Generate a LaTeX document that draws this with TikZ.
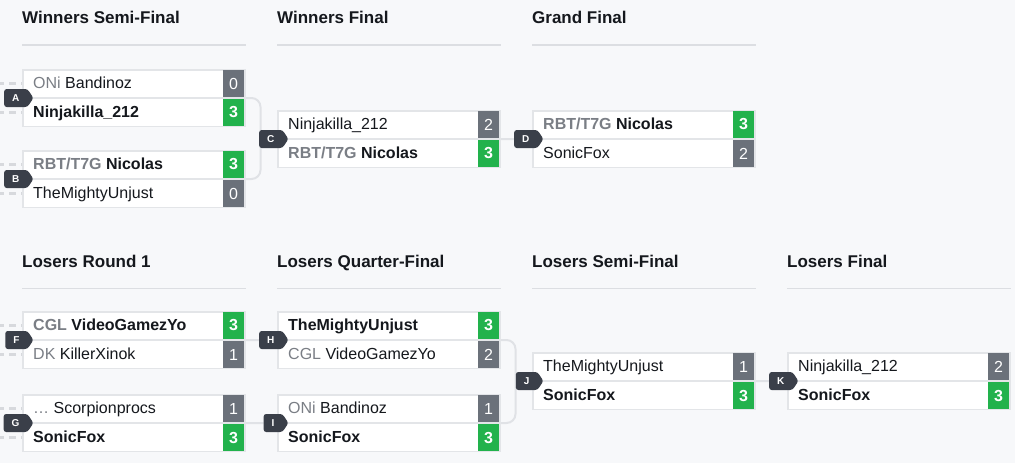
\documentclass[tikz,border=0pt]{standalone}
\usepackage{fontspec}
\setmainfont{Liberation Sans}
\usetikzlibrary{shapes.symbols}
\pgfdeclarelayer{back}
\pgfsetlayers{back,main}
\definecolor{bgc}{HTML}{F7F8FA}
\definecolor{cardb}{HTML}{E3E5E8}
\definecolor{connc}{HTML}{E0E2E6}
\definecolor{winc}{HTML}{22B24C}
\definecolor{losec}{HTML}{6B717A}
\definecolor{badgec}{HTML}{3A3F49}
\definecolor{preg}{HTML}{7A7E85}
\definecolor{txt}{HTML}{15181D}
\definecolor{stubc}{HTML}{D7D9DD}
\definecolor{hlinec}{HTML}{DCDEE2}
\newcommand\pre[1]{{\color{preg}#1}}
\newcommand\mcard[9]{%
  \node[card] (#1) at (#2+111.75,#3+29) {};
  \draw[sepline] (#1.west) -- (#1.east);
  \node[score,#6] (#1s1) at (#2+211.5,#3+14.5) {#5};
  \node[score,#9] (#1s2) at (#2+211.5,#3+43.5) {#8};
  \node[pname] (#1n1) at (#2+11,#3+19.8) {#4};
  \node[pname] (#1n2) at (#2+11,#3+48.8) {#7};
}
\newcommand\mbadge[3]{\node[badge] (#1) at ([xshift=11.5pt]#2.west) {#3};}
\newcommand\mheader[4]{%
  \node[hdr] (#1) at (#2,#3) {#4};
  \draw[hline] (#2,#3+21.5) -- (#2+223.5,#3+21.5);
}
\begin{document}
\begin{tikzpicture}[x=1pt,y=-1pt,
  card/.style={draw=cardb, line width=1.5pt, fill=white, minimum width=222pt, minimum height=56.5pt, inner sep=0pt},
  sepline/.style={draw=cardb, line width=1.5pt},
  score/.style={minimum width=21.5pt, minimum height=27pt, inner sep=0pt, text=white, fill=losec, font=\fontsize{16}{19}\selectfont},
  win/.style={fill=winc, font=\fontsize{16}{19}\selectfont\bfseries},
  lose/.style={fill=losec},
  pname/.style={anchor=base west, inner sep=0pt, text=txt, font=\fontsize{16}{19}\selectfont},
  hdr/.style={anchor=base west, inner sep=0pt, text=txt, font=\fontsize{17}{20}\selectfont\bfseries},
  hline/.style={draw=hlinec, line width=1.3pt},
  badge/.style={shape=signal, signal to=east, signal pointer angle=112, fill=badgec, text=white, font=\fontsize{10}{12}\selectfont\bfseries, minimum height=18pt, inner xsep=8pt, inner ysep=0pt, outer sep=0pt, rounded corners=2.5pt, anchor=east},
  conn/.style={draw=connc, line width=2pt, rounded corners=9pt},
  stub/.style={draw=stubc, line width=3pt, dash pattern=on 7pt off 5pt, dash phase=3pt}
]
\useasboundingbox (0,0) rectangle (1015,463);

% headers
\mheader{h1}{22}{23.5}{Winners Semi-Final}
\mheader{h2}{277}{23.5}{Winners Final}
\mheader{h3}{532}{23.5}{Grand Final}
\mheader{h4}{22}{267}{Losers Round 1}
\mheader{h5}{277}{267}{Losers Quarter-Final}
\mheader{h6}{532}{267}{Losers Semi-Final}
\mheader{h7}{787}{267}{Losers Final}

% cards
\mcard{A}{22}{69}{\pre{ONi} Bandinoz}{0}{lose}{\textbf{Ninjakilla\_212}}{3}{win}
\mcard{B}{22}{150}{\textbf{\pre{RBT/T7G} Nicolas}}{3}{win}{TheMightyUnjust}{0}{lose}
\mcard{C}{277}{110}{Ninjakilla\_212}{2}{lose}{\textbf{\pre{RBT/T7G} Nicolas}}{3}{win}
\mcard{D}{532}{110}{\textbf{\pre{RBT/T7G} Nicolas}}{3}{win}{SonicFox}{2}{lose}
\mcard{F}{22}{311}{\textbf{\pre{CGL} VideoGamezYo}}{3}{win}{\pre{DK} KillerXinok}{1}{lose}
\mcard{G}{22}{394}{\pre{…} Scorpionprocs}{1}{lose}{\textbf{SonicFox}}{3}{win}
\mcard{H}{277}{311}{\textbf{TheMightyUnjust}}{3}{win}{\pre{CGL} VideoGamezYo}{2}{lose}
\mcard{I}{277}{394}{\pre{ONi} Bandinoz}{1}{lose}{\textbf{SonicFox}}{3}{win}
\mcard{J}{532}{352}{TheMightyUnjust}{1}{lose}{\textbf{SonicFox}}{3}{win}
\mcard{K}{787}{352}{Ninjakilla\_212}{2}{lose}{\textbf{SonicFox}}{3}{win}

% badges
\mbadge{bA}{A}{A}
\mbadge{bB}{B}{B}
\mbadge{bC}{C}{C}
\mbadge{bD}{D}{D}
\mbadge{bF}{F}{F}
\mbadge{bG}{G}{G}
\mbadge{bH}{H}{H}
\mbadge{bI}{I}{I}
\mbadge{bJ}{J}{J}
\mbadge{bK}{K}{K}

% stub coordinates
\coordinate (iA1) at (0,83.5);
\coordinate (iA2) at (0,112.5);
\coordinate (iB1) at (0,164.5);
\coordinate (iB2) at (0,193.5);
\coordinate (iF1) at (0,325.5);
\coordinate (iF2) at (0,354.5);
\coordinate (iG1) at (0,408.5);
\coordinate (iG2) at (0,437.5);

\begin{pgfonlayer}{back}
  \fill[bgc] (0,0) rectangle (1015,463);
  \foreach \m in {A,B,F,G}{
    \draw[stub] (i\m1) -- (\m.west |- i\m1);
    \draw[stub] (i\m2) -- (\m.west |- i\m2);
  }
  \draw[conn] (A.east) -- ++(15,0) |- (B.east);
  \draw[conn] (C.east) -- (bD);
  \draw[conn] (F.east) -- (bH);
  \draw[conn] (G.east) -- (bI);
  \draw[conn] (H.east) -- ++(15,0) |- (I.east);
  \draw[conn] (J.east) -- (bK);
\end{pgfonlayer}
\end{tikzpicture}
\end{document}
